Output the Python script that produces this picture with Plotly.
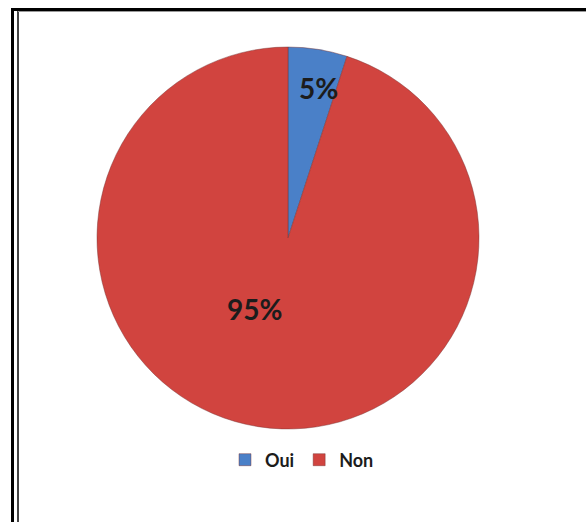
import plotly.graph_objects as go

labels = ["Oui", "Non"]
values = [5, 95]
colors = ["#4A80C8", "#D1443F"]

W, H = 586, 522

def px(x):
    return x / W

def py(y):
    return 1 - y / H

total = sum(values)
pct = [f"{round(v * 100 / total)}%" for v in values]

fig = go.Figure(go.Pie(
    labels=[f"<b>{l}</b>" for l in labels],
    values=values,
    sort=False,
    direction="clockwise",
    rotation=0,
    marker=dict(colors=colors, line=dict(color="rgba(120,50,50,0.45)", width=1)),
    textinfo="none",
    hoverinfo="label+percent",
    domain=dict(x=[px(97), px(479)], y=[py(430), py(46)]),
))

label_pos = [(318, 88), (254, 309)]
for (x, y), t in zip(label_pos, pct):
    fig.add_annotation(x=px(x), y=py(y), xref="paper", yref="paper", text=f"<b>{t}</b>",
                       xanchor="center", yanchor="middle",
                       showarrow=False, font=dict(family="Lato", size=28, color="#1c1c1c"))

shapes = [
    dict(type="line", xref="paper", yref="paper", x0=px(11), x1=1, y0=py(9.5), y1=py(9.5),
         line=dict(color="black", width=3)),
    dict(type="line", xref="paper", yref="paper", x0=px(12.5), x1=px(12.5), y0=py(8), y1=0,
         line=dict(color="black", width=3)),
    dict(type="line", xref="paper", yref="paper", x0=px(18), x1=px(18), y0=py(11), y1=0,
         line=dict(color="#444444", width=2)),
    dict(type="line", xref="paper", yref="paper", x0=px(18), x1=1, y0=py(11.5), y1=py(11.5),
         line=dict(color="#999999", width=1)),
]

fig.update_layout(
    width=W, height=H,
    margin=dict(l=0, r=0, t=0, b=0),
    paper_bgcolor="white",
    plot_bgcolor="white",
    shapes=shapes,
    showlegend=True,
    legend=dict(orientation="h", x=px(302), xanchor="center", y=py(460), yanchor="middle",
                font=dict(family="Lato", size=18, color="#1c1c1c"),
                itemwidth=30, traceorder="normal", bgcolor="rgba(0,0,0,0)"),
)

fig.write_html("out.html", config={"displayModeBar": False},
               post_script="document.body.style.margin='0';document.body.style.overflow='hidden';")
